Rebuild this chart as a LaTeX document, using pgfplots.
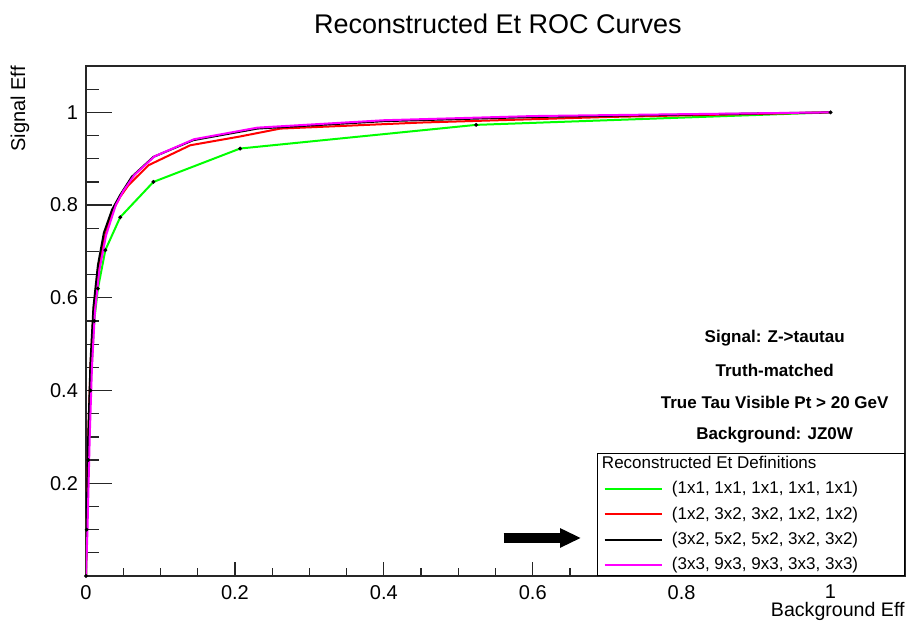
\documentclass[border=0pt]{standalone}
\usepackage{pgfplots}
\pgfplotsset{compat=1.18}
\usepackage{fontspec}
\setmainfont{Liberation Sans}
\usetikzlibrary{arrows.meta}
\definecolor{rootgreen}{RGB}{0,255,0}
\definecolor{rootred}{RGB}{255,0,0}
\definecolor{rootmag}{RGB}{255,0,255}
\begin{document}
\begin{tikzpicture}
\path[use as bounding box] (0,0) rectangle (453.5pt,310.5pt);
\begin{axis}[
  at={(43pt,22.5pt)}, anchor=south west,
  scale only axis, width=409.5pt, height=255pt,
  xmin=0, xmax=1.1, ymin=0, ymax=1.1,
  axis line style={line width=0.6pt, draw=black!85},
  tick align=inside, xtick pos=bottom, ytick pos=left,
  xtick={0,0.2,0.4,0.6,0.8,1},
  xticklabels={0,0.2,0.4,0.6,0.8,1},
  ytick={0.2,0.4,0.6,0.8,1},
  yticklabels={0.2,0.4,0.6,0.8,1},
  minor xtick={0.05,0.1,0.15,0.25,0.3,0.35,0.45,0.5,0.55,0.65,0.7,0.75,0.85,0.9,0.95,1.05},
  minor ytick={0.05,0.1,0.15,0.25,0.3,0.35,0.45,0.5,0.55,0.65,0.7,0.75,0.85,0.9,0.95,1.05},
  major tick length=13pt, minor tick length=6.5pt,
  x tick style={/pgfplots/major tick length=7pt,/pgfplots/minor tick length=4pt},
  every tick/.style={black!85, line width=0.6pt},
  tick label style={font=\fontsize{10}{12}\selectfont},
  /pgf/number format/assume math mode=true,
  xticklabel style={yshift=-1pt},
  yticklabel style={xshift=-0.5pt},
  every axis title shift=0pt,
  title={Reconstructed Et ROC Curves},
  title style={at={(axis description cs:0.503,1.082)}, anchor=center, font=\fontsize{13.5}{16}\selectfont},
  xlabel={Background Eff},
  xlabel style={at={(axis description cs:1,-0.0804)}, anchor=base east, font=\fontsize{9.8}{12}\selectfont, inner sep=0pt},
  ylabel={Signal Eff},
  ylabel style={at={(axis description cs:-0.0806,1.0)}, anchor=east, font=\fontsize{10}{12}\selectfont, inner sep=0pt},
  legend cell align=left,
  legend image code/.code={\draw[#1] (0pt,0pt) -- (28.5pt,0pt);},
  legend style={at={(rel axis cs:1,0)}, anchor=south east, draw=black, line width=0.6pt,
     font=\fontsize{8.5}{10}\selectfont, row sep=4.4pt, column sep=3.5pt, inner xsep=3pt, inner ysep=1pt,
     nodes={inner xsep=1.2pt, inner ysep=0.3pt}},
]
\addlegendimage{empty legend}
\addlegendentry{\hspace{-35pt}Reconstructed Et Definitions}

\addplot[rootgreen, line width=1pt, mark=*, mark size=0.35pt, mark options={black, fill=black}] coordinates {
(0,0) (0.001,0.10) (0.003,0.25) (0.006,0.40) (0.011,0.55) (0.016,0.62) (0.026,0.703) (0.046,0.774) (0.0906,0.850) (0.207,0.922) (0.524,0.973) (1,1)};
\addlegendentry{\makebox[112pt][l]{(1x1, 1x1, 1x1, 1x1, 1x1)}}

\addplot[rootred, line width=1pt] coordinates {
(0,0) (0.001,0.10) (0.003,0.30) (0.006,0.45) (0.010,0.57) (0.016,0.66) (0.025,0.73) (0.035,0.785) (0.046,0.818) (0.057,0.843) (0.084,0.886) (0.140,0.929) (0.207,0.948) (0.261,0.965) (0.45,0.978) (0.70,0.990) (1,1)};
\addlegendentry{(1x2, 3x2, 3x2, 1x2, 1x2)}

\addplot[black, line width=1pt] coordinates {
(0,0) (0.001,0.12) (0.003,0.30) (0.006,0.46) (0.010,0.58) (0.016,0.67) (0.024,0.74) (0.035,0.79) (0.046,0.822) (0.0615,0.861) (0.0906,0.904) (0.144,0.940) (0.230,0.965) (0.40,0.981) (0.60,0.990) (1,1)};
\addlegendentry{(3x2, 5x2, 5x2, 3x2, 3x2)}

\addplot[rootmag, line width=1pt] coordinates {
(0,0) (0.002,0.10) (0.005,0.30) (0.008,0.45) (0.012,0.57) (0.018,0.66) (0.027,0.735) (0.040,0.80) (0.050,0.83) (0.065,0.865) (0.092,0.905) (0.145,0.942) (0.230,0.967) (0.40,0.983) (0.60,0.992) (1,1)};
\addlegendentry{(3x3, 9x3, 9x3, 3x3, 3x3)}

\node[font=\fontsize{8.5}{10}\selectfont\bfseries] at (axis cs:0.925,0.513) {Signal: Z->tautau};
\node[font=\fontsize{8.5}{10}\selectfont\bfseries] at (axis cs:0.925,0.444) {Truth-matched};
\node[font=\fontsize{8.5}{10}\selectfont\bfseries] at (axis cs:0.925,0.375) {True Tau Visible Pt > 20 GeV};
\node[font=\fontsize{8.5}{10}\selectfont\bfseries] at (axis cs:0.925,0.304) {Background: JZ0W};

\draw[line width=5pt, -{Triangle[length=10.5pt, width=9pt]}] (axis cs:0.561,0.082) -- (axis cs:0.665,0.082);
\end{axis}
\end{tikzpicture}
\end{document}
